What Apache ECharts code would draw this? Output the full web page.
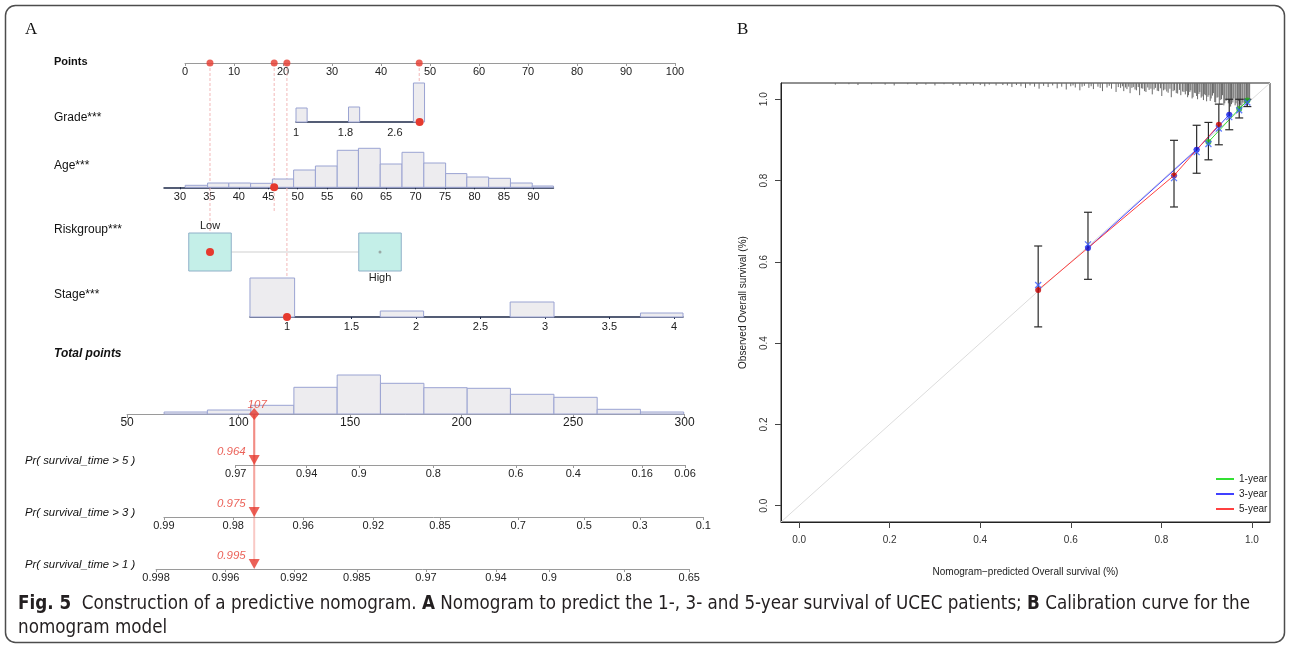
<!DOCTYPE html>
<html><head><meta charset="utf-8">
<script src="https://cdn.jsdelivr.net/npm/echarts@6/dist/echarts.min.js"></script>
<style>html,body{margin:0;padding:0;background:#fff}#c{width:1290px;height:646px}</style>
</head><body><div id="c"></div>
<script>
// ---------------- DATA ----------------
// Panel A : nomogram
const pointsTicks = [0, 10, 20, 30, 40, 50, 60, 70, 80, 90, 100];
const selVars = ['Riskgroup', 'Age', 'Stage', 'Grade'];
const selPoints = [5.1, 18.2, 20.8, 47.8];          // points read on the Points scale
const gradeTicks = [1, 1.8, 2.6];
const gradeBins = [[1.0, 1.18, 14], [1.85, 2.03, 15], [2.9, 3.08, 39]];
const gradeSel = 3;
const ageTicks = [30, 35, 40, 45, 50, 55, 60, 65, 70, 75, 80, 85, 90];
const ageEdges = [30.9, 34.7, 38.3, 42.0, 45.7, 49.3, 53.0, 56.7, 60.3, 64.0, 67.7, 71.4, 75.1, 78.7, 82.4, 86.1, 89.8, 93.4];
const ageCounts = [2, 4.3, 4.3, 4, 8.3, 17.3, 21.3, 37, 39, 23.3, 35, 24.3, 13.7, 10.3, 9, 4.3, 1.3];
const ageSel = 46;
const riskLevels = ['Low', 'High'];
const riskSel = 'Low';
const stageTicks = [1, 1.5, 2, 2.5, 3, 3.5, 4];
const stageBins = [[0.713, 1.059, 39], [1.723, 2.059, 6], [2.73, 3.07, 15], [3.74, 4.07, 4]];
const stageSel = 1;
const totalTicks = [50, 100, 150, 200, 250, 300];
const totalEdges = [66.6, 86, 105.5, 124.8, 144.2, 163.6, 183.1, 202.5, 221.9, 241.4, 260.8, 280.2, 299.6];
const totalCounts = [2, 4, 8.7, 26.7, 39, 30.7, 26.3, 25.7, 19.7, 16.7, 4.7, 2];
const totalSel = 107;
const prNames = ['Pr( survival_time > 5 )', 'Pr( survival_time > 3 )', 'Pr( survival_time > 1 )'];
const pr5Labels = ['0.97', '0.94', '0.9', '0.8', '0.6', '0.4', '0.16', '0.06'];
const pr5At = [98.7, 130.5, 154.0, 187.3, 224.3, 250.1, 281.0, 300.2];
const pr3Labels = ['0.99', '0.98', '0.96', '0.92', '0.85', '0.7', '0.5', '0.3', '0.1'];
const pr3At = [66.5, 97.6, 129.0, 160.4, 190.3, 225.4, 255.0, 280.0, 308.4];
const pr1Labels = ['0.998', '0.996', '0.992', '0.985', '0.97', '0.94', '0.9', '0.8', '0.65'];
const pr1At = [63.0, 94.2, 124.8, 153.0, 184.0, 215.4, 239.3, 272.8, 302.1];
const prSel = ['0.964', '0.975', '0.995'];

// Panel B : calibration
const calTicks = [0, 0.2, 0.4, 0.6, 0.8, 1.0];
const calNames = ['1-year', '3-year', '5-year'];
const cal1Pred = [0.904, 0.972, 0.990];
const cal1Obs  = [0.895, 0.976, 0.997];
const cal1Lo   = [0.851, 0.954, 0.982];
const cal1Hi   = [0.943, 1.000, 1.000];
const cal1Cor  = [0.890, 0.973, 0.992];
const cal3Pred = [0.638, 0.878, 0.950];
const cal3Obs  = [0.634, 0.876, 0.962];
const cal3Lo   = [0.557, 0.818, 0.925];
const cal3Hi   = [0.722, 0.936, 1.000];
const cal3Cor  = [0.643, 0.870, 0.956];
const cal5Pred = [0.528, 0.828, 0.927];
const cal5Obs  = [0.531, 0.8125, 0.937];
const cal5Lo   = [0.440, 0.735, 0.888];
const cal5Hi   = [0.639, 0.899, 0.988];
const cal5Cor  = [0.543, 0.806, 0.928];
const rugPred = [0.08, 0.11, 0.13, 0.16, 0.19, 0.21, 0.24, 0.26, 0.28, 0.30, 0.32, 0.34, 0.355, 0.37, 0.385, 0.40, 0.41, 0.42, 0.435, 0.45,
  0.46, 0.47, 0.48, 0.49, 0.50, 0.51, 0.52, 0.53, 0.54, 0.55, 0.56, 0.57, 0.58, 0.59, 0.60, 0.605, 0.61, 0.62, 0.625, 0.63, 0.64, 0.645, 0.65, 0.66, 0.665, 0.67, 0.68, 0.685, 0.69, 0.70,
  0.705, 0.71, 0.714, 0.717, 0.721, 0.724, 0.728, 0.731, 0.735, 0.738, 0.742, 0.745, 0.749, 0.752, 0.756, 0.759, 0.763, 0.766, 0.770, 0.773, 0.777, 0.78, 0.784, 0.787, 0.791, 0.794, 0.798, 0.801, 0.805, 0.808, 0.812, 0.815, 0.819, 0.822, 0.826, 0.829, 0.833, 0.836, 0.840, 0.843, 0.847, 0.85,
  0.853, 0.855, 0.858, 0.86, 0.863, 0.865, 0.868, 0.87, 0.873, 0.875, 0.878, 0.88, 0.883, 0.885, 0.888, 0.89, 0.893, 0.895, 0.898, 0.90, 0.903, 0.905, 0.908, 0.91, 0.913, 0.915, 0.918, 0.92, 0.923, 0.925, 0.928, 0.93, 0.933, 0.935, 0.938, 0.94, 0.943, 0.945, 0.948, 0.95, 0.953, 0.955, 0.958, 0.96, 0.963, 0.965, 0.968, 0.97, 0.973, 0.975, 0.978, 0.98, 0.983, 0.985, 0.988, 0.99, 0.993, 0.995];
const rugLen = [0.004, 0.003, 0.005, 0.003, 0.004, 0.006, 0.003, 0.005, 0.004, 0.006, 0.003, 0.005, 0.007, 0.004, 0.006, 0.005, 0.008, 0.004, 0.006, 0.005,
  0.006, 0.010, 0.005, 0.008, 0.012, 0.006, 0.009, 0.014, 0.007, 0.010, 0.006, 0.013, 0.009, 0.016, 0.008, 0.006, 0.011, 0.018, 0.009, 0.007, 0.012, 0.008, 0.015, 0.009, 0.012, 0.020, 0.011, 0.007, 0.014, 0.022,
  0.010, 0.012, 0.008, 0.020, 0.011, 0.015, 0.009, 0.025, 0.012, 0.010, 0.016, 0.018, 0.010, 0.030, 0.013, 0.014, 0.020, 0.022, 0.011, 0.017, 0.014, 0.028, 0.016, 0.012, 0.019, 0.020, 0.013, 0.032, 0.018, 0.016, 0.021, 0.024, 0.014, 0.035, 0.020, 0.018, 0.025, 0.026, 0.017, 0.030, 0.021, 0.022,
  0.028, 0.020, 0.035, 0.030, 0.022, 0.018, 0.038, 0.035, 0.024, 0.025, 0.032, 0.040, 0.027, 0.022, 0.036, 0.033, 0.042, 0.028, 0.030, 0.045, 0.034, 0.030, 0.044, 0.038, 0.031, 0.025, 0.047, 0.048, 0.036, 0.035, 0.052, 0.042, 0.040, 0.030, 0.055, 0.050, 0.044, 0.040, 0.050, 0.045, 0.058, 0.052, 0.048, 0.038, 0.055, 0.050, 0.060, 0.044, 0.052, 0.055, 0.058, 0.048, 0.050, 0.050, 0.056, 0.053, 0.048, 0.045];

// ---------------- LAYOUT (pixels) ----------------
const FONT = "'Liberation Sans', Arial, Helvetica, sans-serif";
const L = {
  pts:   {x0: 185, x1: 675, y: 63},
  grade: {px: 296, at: 1, ppu: 61.8, y: 122, min: 1, max: 3.04},
  age:   {px: 179.9, at: 30, ppu: 5.892, y: 187.3, min: 27.3, max: 93.4},
  risk:  {px: 210, at: 0, ppu: 170, top: 233, h: 38, min: -0.125, max: 1.125, half: 0.125},
  stage: {px: 287, at: 1, ppu: 129, y: 317, min: 0.713, max: 4.07},
  tot:   {x0: 127.1, x1: 684.6, y: 414},
  pr: [465, 517, 569],
  cal: {left: 781, top: 83, width: 489, height: 439, min: -0.04, max: 1.04}
};
const totPpu = (L.tot.x1 - L.tot.x0) / 250;
const NAVY = '#1d2848', GRAY = '#9a9a9a', RED = '#e63a2e';
const HFILL = '#edecef', HSTROKE = '#9aa3d2';

const grids = [], xAxes = [], yAxes = [], series = [];
function addGrid(g, xa, ya) {
  grids.push(g);
  const i = grids.length - 1;
  xAxes.push(Object.assign({gridIndex: i, type: 'value', splitLine: {show: false}}, xa));
  yAxes.push(Object.assign({gridIndex: i, type: 'value', show: false, splitLine: {show: false}}, ya));
  return i;
}
const lab = (o) => Object.assign({fontFamily: FONT, fontSize: 11, color: '#222'}, o || {});
function varGrid(c, h) {
  return {left: c.px + (c.min - c.at) * c.ppu, width: (c.max - c.min) * c.ppu, top: c.y - h, height: h};
}
function histItem(params, api) {
  const p0 = api.coord([api.value(0), 0]);
  const p1 = api.coord([api.value(1), api.value(2)]);
  return {type: 'rect', shape: {x: p0[0], y: p1[1], width: p1[0] - p0[0], height: p0[1] - p1[1]},
    style: {fill: HFILL, stroke: HSTROKE, lineWidth: 1}};
}
function hist(gi, bins) {
  series.push({type: 'custom', xAxisIndex: gi, yAxisIndex: gi, renderItem: histItem, data: bins, encode: {x: [0, 1], y: 2}, z: 2, silent: true});
}
function dot(gi, x, y, size, color) {
  series.push({type: 'scatter', xAxisIndex: gi, yAxisIndex: gi, symbolSize: size, itemStyle: {color: color, opacity: 1}, data: [[x, y]], z: 6, silent: true});
}

// ---- Points
const gP = addGrid({left: L.pts.x0, width: L.pts.x1 - L.pts.x0, top: L.pts.y - 20, height: 20},
  {min: 0, max: 100, interval: 10, axisLine: {lineStyle: {color: GRAY}}, axisTick: {length: 3, lineStyle: {color: GRAY}},
   axisLabel: lab({margin: 3})}, {min: 0, max: 1});
series.push({type: 'scatter', xAxisIndex: gP, yAxisIndex: gP, symbolSize: 7, itemStyle: {color: RED}, data: selPoints.map(p => [p, 0]), z: 6});

// ---- Grade
const gG = addGrid(varGrid(L.grade, 40),
  {min: L.grade.min, max: L.grade.max, axisLine: {lineStyle: {color: NAVY, width: 1.5}}, axisTick: {show: false},
   axisLabel: lab({customValues: gradeTicks, margin: 5})}, {min: 0, max: 40});
hist(gG, gradeBins);
dot(gG, gradeSel, 0, 8, RED);

// ---- Age
const gA = addGrid(varGrid(L.age, 40),
  {min: L.age.min, max: L.age.max, axisLine: {lineStyle: {color: NAVY, width: 1.5}}, axisTick: {customValues: ageTicks, length: 2, lineStyle: {color: NAVY}},
   axisLabel: lab({customValues: ageTicks, margin: 4})}, {min: 0, max: 40});
hist(gA, ageCounts.map((c, i) => [ageEdges[i], ageEdges[i + 1], c]));
dot(gA, ageSel, 0, 8, RED);

// ---- Riskgroup
const gR = addGrid({left: L.risk.px + (L.risk.min - L.risk.at) * L.risk.ppu, width: (L.risk.max - L.risk.min) * L.risk.ppu, top: L.risk.top, height: L.risk.h},
  {min: L.risk.min, max: L.risk.max, show: false}, {min: 0, max: 1});
series.push({type: 'line', xAxisIndex: gR, yAxisIndex: gR, data: [[riskLevels.indexOf('Low') + L.risk.half, 0.5], [riskLevels.indexOf('High') - L.risk.half, 0.5]],
  symbol: 'none', lineStyle: {color: '#cfcfcf', width: 1}, z: 1, silent: true});
series.push({type: 'custom', xAxisIndex: gR, yAxisIndex: gR, silent: true, z: 3,
  data: riskLevels.map((r, i) => [i, r]),
  renderItem: function (params, api) {
    const v = api.value(0);
    const a = api.coord([v - L.risk.half, 1]);
    const b = api.coord([v + L.risk.half, 0]);
    const top = params.dataIndex === 0;
    return {type: 'group', children: [
      {type: 'rect', shape: {x: a[0], y: a[1], width: b[0] - a[0], height: b[1] - a[1]}, style: {fill: '#c4efe8', stroke: '#8fb0c8', lineWidth: 1}},
      {type: 'text', x: (a[0] + b[0]) / 2, y: top ? a[1] - 7 : b[1] + 7,
       style: {text: riskLevels[params.dataIndex], fontFamily: FONT, fontSize: 11, fill: '#222', align: 'center', verticalAlign: 'middle'}}
    ]};
  }});
riskLevels.forEach((r, i) => {
  if (r === riskSel) dot(gR, i, 0.5, 8, RED); else dot(gR, i, 0.5, 3, '#9aa9a6');
});

// ---- Stage
const gS = addGrid(varGrid(L.stage, 40),
  {min: L.stage.min, max: L.stage.max, axisLine: {lineStyle: {color: NAVY, width: 1.5}}, axisTick: {customValues: stageTicks, length: 2, lineStyle: {color: NAVY}},
   axisLabel: lab({customValues: stageTicks, margin: 4})}, {min: 0, max: 40});
hist(gS, stageBins);
dot(gS, stageSel, 0, 8, RED);

// ---- Total points
const gT = addGrid({left: L.tot.x0, width: L.tot.x1 - L.tot.x0, top: L.tot.y - 40, height: 40},
  {min: 50, max: 300, interval: 50, axisLine: {lineStyle: {color: GRAY}}, axisTick: {length: 4, lineStyle: {color: GRAY}},
   axisLabel: lab({fontSize: 12, margin: 3})}, {min: 0, max: 40});
hist(gT, totalCounts.map((c, i) => [totalEdges[i], totalEdges[i + 1], c]));
series.push({type: 'scatter', xAxisIndex: gT, yAxisIndex: gT, symbol: 'diamond', symbolSize: [10, 12], itemStyle: {color: RED}, z: 7,
  data: [[totalSel, 0]], label: {show: true, position: 'top', distance: 0, offset: [3, 3], formatter: String(totalSel), fontFamily: FONT, fontSize: 11.5, fontStyle: 'italic', color: RED}});

// ---- Probability scales
[[pr5Labels, pr5At], [pr3Labels, pr3At], [pr1Labels, pr1At]].forEach((pa, k) => {
  const labels = pa[0], at = pa[1];
  const mn = at[0], mx = at[at.length - 1];
  const gi = addGrid({left: L.tot.x0 + (mn - 50) * totPpu, width: (mx - mn) * totPpu, top: L.pr[k] - 20, height: 20},
    {min: mn, max: mx, axisLine: {lineStyle: {color: GRAY}}, axisTick: {customValues: at, length: 3, lineStyle: {color: GRAY}},
     axisLabel: lab({customValues: at, margin: 3, formatter: function (v) {
       let bi = 0; at.forEach((a, j) => { if (Math.abs(a - v) < Math.abs(at[bi] - v)) bi = j; }); return labels[bi]; }})},
    {min: 0, max: 1});
  series.push({type: 'scatter', xAxisIndex: gi, yAxisIndex: gi, symbol: 'triangle', symbolRotate: 180, symbolSize: [11, 10], symbolOffset: [0, -5],
    itemStyle: {color: RED}, z: 7, data: [[totalSel, 0]],
    label: {show: true, position: 'left', distance: 3, offset: [0, -8], formatter: prSel[k], fontFamily: FONT, fontSize: 11.5, fontStyle: 'italic', color: RED}});
});

// ---- Overlay (Points scale) : guide lines from Points axis to the chosen values
const gOP = addGrid({left: L.pts.x0, width: L.pts.x1 - L.pts.x0, top: 0, height: 646},
  {min: 0, max: 100, show: false}, {min: 0, max: 646, inverse: true});
const guideEnd = {Riskgroup: L.risk.top + L.risk.h / 2, Age: L.age.y + 25, Stage: L.stage.y, Grade: L.grade.y};
selVars.forEach((v, i) => {
  series.push({type: 'line', xAxisIndex: gOP, yAxisIndex: gOP, symbol: 'none', silent: true, z: 1,
    lineStyle: {color: '#f2b8b8', width: 1, type: [3, 2]}, data: [[selPoints[i], L.pts.y], [selPoints[i], guideEnd[v]]]});
});
// ---- Overlay (Total scale) : from total points down to the probability scales
const gOT = addGrid({left: L.tot.x0, width: L.tot.x1 - L.tot.x0, top: 0, height: 646},
  {min: 50, max: 300, show: false}, {min: 0, max: 646, inverse: true});
L.pr.forEach((py) => {
  series.push({type: 'line', xAxisIndex: gOT, yAxisIndex: gOT, symbol: 'none', silent: true, z: 1,
    lineStyle: {color: 'rgba(236,90,80,0.33)', width: 2}, data: [[totalSel, L.tot.y], [totalSel, py - 8]]});
});

// ---- Panel B : calibration
const C = L.cal;
const gC = addGrid({left: C.left, top: C.top, width: C.width, height: C.height, show: true, borderColor: '#222', borderWidth: 1},
  {min: C.min, max: C.max, axisLine: {onZero: false, lineStyle: {color: '#222'}}, axisTick: {customValues: calTicks, length: 6, lineStyle: {color: '#444'}},
   axisLabel: lab({customValues: calTicks, fontSize: 10, color: '#333', margin: 13, formatter: v => v.toFixed(1)}),
   name: 'Nomogram\u2212predicted Overall survival (%)', nameLocation: 'middle', nameGap: 45, nameTextStyle: {fontFamily: FONT, fontSize: 10, color: '#222'}},
  {show: true, min: C.min, max: C.max, axisLine: {onZero: false, lineStyle: {color: '#222'}}, axisTick: {customValues: calTicks, length: 6, lineStyle: {color: '#444'}},
   axisLabel: lab({customValues: calTicks, fontSize: 10, color: '#333', margin: 12, rotate: 90, formatter: v => v.toFixed(1)}),
   name: 'Observed Overall survival (%)', nameLocation: 'middle', nameGap: 33, nameRotate: 90, nameTextStyle: {fontFamily: FONT, fontSize: 10, color: '#222'}});
series.push({type: 'line', xAxisIndex: gC, yAxisIndex: gC, symbol: 'none', silent: true, z: 1, lineStyle: {color: '#dcdcdc', width: 1},
  data: [[C.min, C.min], [C.max, C.max]]});
series.push({type: 'custom', xAxisIndex: gC, yAxisIndex: gC, silent: true, z: 2,
  data: rugPred.map((p, i) => [p, rugLen[i]]), encode: {x: 0, y: 1},
  renderItem: function (params, api) {
    const a = api.coord([api.value(0), C.max]);
    const b = api.coord([api.value(0), C.max - api.value(1)]);
    return {type: 'line', shape: {x1: a[0], y1: a[1], x2: b[0], y2: b[1]}, style: {stroke: '#6a6a6a', lineWidth: 1}};
  }});
const calSets = [
  {name: calNames[0], pred: cal1Pred, obs: cal1Obs, lo: cal1Lo, hi: cal1Hi, cor: cal1Cor, line: '#33e033', dot: '#22b422'},
  {name: calNames[1], pred: cal3Pred, obs: cal3Obs, lo: cal3Lo, hi: cal3Hi, cor: cal3Cor, line: '#4040ff', dot: '#1010d8'},
  {name: calNames[2], pred: cal5Pred, obs: cal5Obs, lo: cal5Lo, hi: cal5Hi, cor: cal5Cor, line: '#ff4040', dot: '#c40000'}
];
calSets.forEach((s) => {
  series.push({type: 'line', name: s.name, xAxisIndex: gC, yAxisIndex: gC, symbol: 'none', z: 3, lineStyle: {color: s.line, width: 1}, itemStyle: {color: s.line},
    data: s.pred.map((p, i) => [p, s.obs[i]])});
  series.push({type: 'custom', name: s.name + ' CI', xAxisIndex: gC, yAxisIndex: gC, silent: true, z: 4,
    data: s.pred.map((p, i) => [p, s.lo[i], s.hi[i]]), encode: {x: 0, y: [1, 2]},
    renderItem: function (params, api) {
      const a = api.coord([api.value(0), api.value(2)]);
      const b = api.coord([api.value(0), api.value(1)]);
      const st = {stroke: '#2a2a2a', lineWidth: 1.2};
      return {type: 'group', children: [
        {type: 'line', shape: {x1: a[0], y1: a[1], x2: b[0], y2: b[1]}, style: st},
        {type: 'line', shape: {x1: a[0] - 4, y1: a[1], x2: a[0] + 4, y2: a[1]}, style: st},
        {type: 'line', shape: {x1: b[0] - 4, y1: b[1], x2: b[0] + 4, y2: b[1]}, style: st}
      ]};
    }});
  series.push({type: 'scatter', name: s.name + ' obs', xAxisIndex: gC, yAxisIndex: gC, symbolSize: 6, z: 5, itemStyle: {color: s.dot},
    data: s.pred.map((p, i) => [p, s.obs[i]])});
  series.push({type: 'scatter', name: s.name + ' corrected', xAxisIndex: gC, yAxisIndex: gC, symbol: 'path://M0,0L10,10M10,0L0,10', symbolSize: 6, z: 6,
    itemStyle: {color: 'rgba(0,0,0,0)', borderColor: '#3a5cff', borderWidth: 1.3},
    data: s.pred.map((p, i) => [p, s.cor[i]])});
});

// ---------------- TEXT ----------------
const graphics = [];
graphics.push({type: 'rect', shape: {x: 5.5, y: 5.5, width: 1279, height: 637, r: 10}, style: {fill: 'none', stroke: '#4d4d4d', lineWidth: 1.5}, z: 0});
const T = (text, x, y, o) => graphics.push({type: 'text', x: x, y: y, z: 10,
  style: Object.assign({text: text, fontFamily: FONT, fontSize: 12, fill: '#111', verticalAlign: 'middle', align: 'left'}, o || {})});
T('A', 25, 30, {fontFamily: "'Liberation Serif', 'Times New Roman', serif", fontSize: 17});
T('B', 737, 30, {fontFamily: "'Liberation Serif', 'Times New Roman', serif", fontSize: 17});
T('Points', 54, 62, {fontWeight: 'bold', fontSize: 11});
T('Grade***', 54, 118);
T('Age***', 54, 166);
T('Riskgroup***', 54, 230);
T('Stage***', 54, 295);
T('Total points', 54, 354, {fontWeight: 'bold', fontStyle: 'italic'});
prNames.forEach((n, k) => T(n, 25, L.pr[k] - 4, {fontStyle: 'italic', fontSize: 11.3}));

// caption
const capFont = "'Liberation Sans Narrow', 'DejaVu Sans Condensed', 'Roboto Condensed', 'Liberation Sans', sans-serif";
const capSize = 19;
const cap1 = [['Fig. 5', 1], ['  Construction of a predictive nomogram. ', 0], ['A', 1], [' Nomogram to predict the 1-, 3- and 5-year survival of UCEC patients; ', 0], ['B', 1], [' Calibration curve for the', 0]];
const cv = document.createElement('canvas').getContext('2d');
let w1 = 0;
cap1.forEach(p => { cv.font = (p[1] ? 'bold ' : '') + capSize + 'px ' + capFont; w1 += cv.measureText(p[0]).width; });
const capScale = Math.min(1.2, 1232 / w1);
const rich = {
  b: {fontFamily: capFont, fontSize: capSize, fontWeight: 'bold', fill: '#231f20', color: '#231f20'},
  n: {fontFamily: capFont, fontSize: capSize, fill: '#231f20', color: '#231f20'}
};
graphics.push({type: 'text', x: 18, y: 604, scaleX: capScale, z: 10,
  style: {text: cap1.map(p => '{' + (p[1] ? 'b' : 'n') + '|' + p[0] + '}').join(''), rich: rich, fontFamily: capFont, fontSize: capSize, verticalAlign: 'middle', fill: '#231f20'}});
graphics.push({type: 'text', x: 18, y: 628, scaleX: capScale, z: 10,
  style: {text: 'nomogram model', fontFamily: capFont, fontSize: capSize, verticalAlign: 'middle', fill: '#231f20'}});

const chart = echarts.init(document.getElementById('c'), null, {renderer: 'canvas', width: 1290, height: 646});
chart.setOption({
  animation: false,
  backgroundColor: '#fff',
  grid: grids, xAxis: xAxes, yAxis: yAxes, series: series,
  legend: {data: calNames, orient: 'vertical', left: 1211, top: 469, itemWidth: 18, itemHeight: 2, itemGap: 5, icon: 'rect',
    textStyle: {fontFamily: FONT, fontSize: 10, color: '#222'}, selectedMode: false},
  graphic: graphics
});
</script></body></html>
